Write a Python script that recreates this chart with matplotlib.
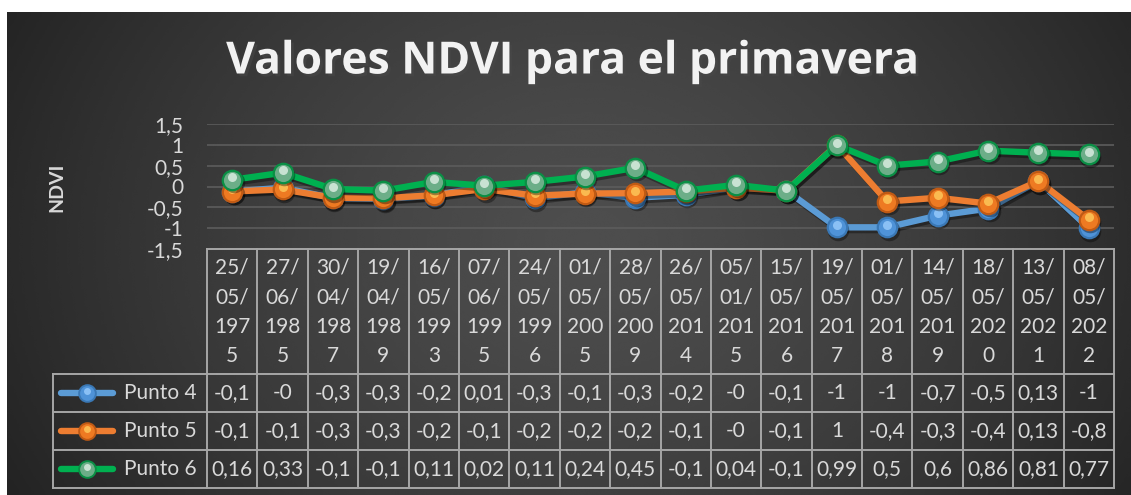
import numpy as np
import matplotlib
matplotlib.use("Agg")
import matplotlib.pyplot as plt
import matplotlib.patheffects as pe
from matplotlib.transforms import offset_copy

plt.rcParams['font.family'] = ['Lato', 'DejaVu Sans']

# Datos NDVI por fecha
fechas = ["25/05/1975", "27/06/1985", "30/04/1987", "19/04/1989", "16/05/1993",
          "07/06/1995", "24/05/1996", "01/05/2005", "28/05/2009", "26/05/2014",
          "05/01/2015", "15/05/2016", "19/05/2017", "01/05/2018", "14/05/2019",
          "18/05/2020", "13/05/2021", "08/05/2022"]
punto4 = [-0.12, -0.03, -0.28, -0.30, -0.22, 0.01, -0.28, -0.14, -0.27, -0.20,
          -0.02, -0.10, -0.98, -0.98, -0.70, -0.53, 0.13, -1.00]
punto5 = [-0.12, -0.07, -0.27, -0.28, -0.21, -0.06, -0.22, -0.17, -0.16, -0.12,
          -0.03, -0.10, 1.00, -0.36, -0.27, -0.41, 0.13, -0.80]
punto6 = [0.16, 0.33, -0.06, -0.10, 0.11, 0.02, 0.11, 0.24, 0.45, -0.10,
          0.04, -0.10, 0.99, 0.50, 0.60, 0.86, 0.81, 0.77]
nombres = ["Punto 4", "Punto 5", "Punto 6"]
yticks = [-1.5, -1, -0.5, 0, 0.5, 1, 1.5]

series = [punto4, punto5, punto6]
# color linea, borde marcador, relleno, brillo
estilos = [("#5b9bd5", "#3a78b5", "#4f93d8", "#9fd0ff"),
           ("#ed7d31", "#c05a14", "#ee7a22", "#ffd060"),
           ("#00b050", "#0a8f45", "#6cae88", "#e8f4ec")]

W, H = 1131, 495
TXT = "#d9d9d9"
GRID = "#a6a6a6"
FS = 15


def fmt_excel(v):
    # formato "General" de Excel en celdas estrechas (max 4 caracteres)
    for d in (2, 1, 0):
        s = f"{v:.{d}f}"
        if "." in s:
            s = s.rstrip("0").rstrip(".")
        if len(s) <= 4:
            return s.replace(".", ",")
    return s.replace(".", ",")


def fmt_tick(v):
    s = f"{v:g}"
    return s.replace(".", ",")


fig = plt.figure(figsize=(W / 100, H / 100), dpi=100, facecolor="white")

# fondo degradado
bg = fig.add_axes([7 / W, 0, 1 - 7 / W, 1 - 12 / H])
xx, yy = np.meshgrid(np.linspace(0, 1124, 400), np.linspace(0, 483, 200))
r = np.sqrt(((xx - 580) / 640) ** 2 + ((yy - 230) / 520) ** 2)
val = np.clip(0.305 - 0.16 * r ** 1.4, 0.13, 1)
bg.imshow(val, cmap="gray", vmin=0, vmax=1, aspect="auto",
          extent=[0, 1124, 483, 0], interpolation="bicubic")
bg.set_axis_off()

# capa en pixeles para la tabla y textos
ov = fig.add_axes([0, 0, 1, 1], facecolor="none")
ov.set_xlim(0, W)
ov.set_ylim(H, 0)
ov.set_axis_off()

x0, x1 = 207, 1114
y_top, y_bot = 124, 249
ax = fig.add_axes([x0 / W, 1 - y_bot / H, (x1 - x0) / W, (y_bot - y_top) / H],
                  facecolor="none")
n = len(fechas)
ax.set_xlim(-0.5, n - 0.5)
ax.set_ylim(-1.5, 1.5)
ax.set_yticks(yticks)
ax.set_yticklabels([fmt_tick(t) for t in yticks])
ax.tick_params(axis="y", length=0, pad=17, labelsize=FS, labelcolor=TXT)
ax.set_xticks([])
for s in ax.spines.values():
    s.set_visible(False)
for t in yticks[1:]:
    ax.axhline(t, color="#5c5c5c", lw=1.2, zorder=0)

x = np.arange(n)
sombra = offset_copy(ax.transData, fig=fig, x=1.5, y=-2.5, units="dots")
brillo = offset_copy(ax.transData, fig=fig, x=0, y=2.5, units="dots")
for k, (vals, (lc, ec, fc, hc)) in enumerate(zip(series, estilos)):
    z = 3 + k * 4
    ax.plot(x, vals, color=lc, lw=4.6, solid_joinstyle="round",
            solid_capstyle="round", zorder=z,
            path_effects=[pe.SimpleLineShadow(offset=(1.5, -2), alpha=0.35),
                          pe.Normal()])
    ax.plot(x, vals, "o", ms=15.5, color="black", alpha=0.35, mew=0,
            transform=sombra, zorder=z + 0.5)
    ax.plot(x, vals, "o", ms=14, mfc=fc, mec=ec, mew=1.6, zorder=z + 1)
    ax.plot(x, vals, "o", ms=6.5, mfc=hc, mew=0, alpha=0.75,
            transform=brillo, zorder=z + 2)

# titulo y eje
fig.text(573 / W, 1 - 62 / H, "Valores NDVI para el primavera", ha="center",
         va="center", fontsize=32, fontweight="bold", color="#f2f2f2",
         family=["Open Sans", "DejaVu Sans"],
         path_effects=[pe.withSimplePatchShadow(offset=(2, -2), alpha=0.5)])
fig.text(57 / W, 1 - 187 / H, "NDVI", rotation=90, ha="center", va="center",
         fontsize=14, fontweight="bold", color=TXT)

# tabla de datos
cw = (x1 - x0) / n
rows = [374, 412, 450, 488]
lkw = dict(color=GRID, lw=1.4, solid_capstyle="projecting")
ov.plot([x0, x1], [y_bot, y_bot], **lkw)
for yr in rows:
    ov.plot([53, x1], [yr, yr], **lkw)
for i in range(n + 1):
    ov.plot([x0 + i * cw] * 2, [y_bot, rows[-1]], **lkw)
ov.plot([53, 53], [rows[0], rows[-1]], **lkw)

for i, f in enumerate(fechas):
    cx = x0 + (i + 0.5) * cw
    trozos = [f[j:j + 3] for j in range(0, len(f), 3)]
    for j, tz in enumerate(trozos):
        ov.text(cx, 268 + j * 29.3, tz, ha="center", va="center",
                fontsize=FS, color=TXT)
    for r_i, vals in enumerate(series):
        cy = (rows[r_i] + rows[r_i + 1]) / 2
        ov.text(cx, cy, fmt_excel(vals[i]), ha="center", va="center",
                fontsize=FS, color=TXT)

for r_i, (nom, (lc, ec, fc, hc)) in enumerate(zip(nombres, estilos)):
    cy = (rows[r_i] + rows[r_i + 1]) / 2
    ov.plot([61, 113], [cy, cy], color=lc, lw=4.6, solid_capstyle="round")
    ov.plot([87], [cy], "o", ms=12, mfc=fc, mec=ec, mew=1.4)
    ov.plot([87], [cy - 2], "o", ms=5, mfc=hc, mew=0, alpha=0.75)
    ov.text(124, cy, nom, ha="left", va="center", fontsize=FS, color=TXT)

fig.savefig("out.png", dpi=100, facecolor="white")
